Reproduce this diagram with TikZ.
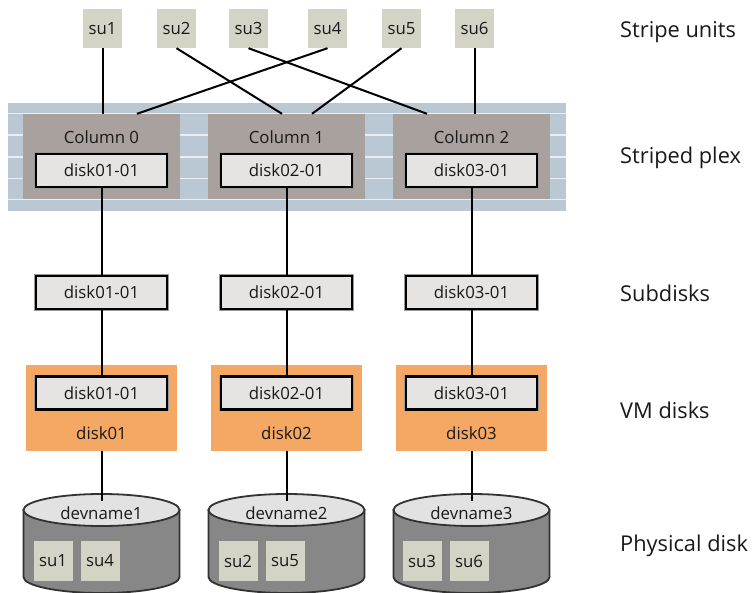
\documentclass[tikz,border=0pt]{standalone}
\usepackage{fontspec}
\setmainfont{Open Sans}
\definecolor{sucol}{RGB}{211,211,198}
\definecolor{bandcol}{RGB}{186,200,211}
\definecolor{stripecol}{RGB}{232,238,243}
\definecolor{colcol}{RGB}{169,161,158}
\definecolor{diskfill}{RGB}{229,228,226}
\definecolor{vmcol}{RGB}{245,168,99}
\definecolor{cylbody}{RGB}{135,135,135}
\definecolor{cyltop}{RGB}{226,226,226}
\definecolor{cylline}{RGB}{50,50,50}
\definecolor{txtcol}{RGB}{25,25,25}
\begin{document}
\begin{tikzpicture}[x=1pt,y=-1pt,
  smallfont/.style={font=\fontsize{16.8}{19}\selectfont, text=txtcol},
  sunit/.style={fill=sucol, minimum width=39pt, minimum height=39pt, inner sep=0pt, smallfont},
  colbox/.style={fill=colcol, minimum width=157pt, minimum height=85pt, inner sep=0pt},
  diskbox/.style={fill=diskfill, draw=black, line width=2.4pt, preaction={draw=black!40, line width=3.8pt}, minimum width=131pt, minimum height=33pt, inner sep=0pt, smallfont},
  vmbox/.style={fill=vmcol, minimum width=151pt, minimum height=86pt, inner sep=0pt},
  plainlbl/.style={inner sep=0pt, smallfont},
  rowlabel/.style={anchor=base west, inner sep=0pt, font=\fontsize{21.8}{26}\selectfont, text=txtcol},
  conn/.style={line width=2pt, draw=black},
  cylfill/.style={fill=cylbody, draw=cylline, line width=1.8pt},
  cyltopfill/.style={fill=cyltop, draw=cylline, line width=1.8pt},
  stripe/.style={draw=stripecol, line width=1.6pt},
]
\useasboundingbox[fill=white] (0,0) rectangle (755,593);

% striped plex band
\fill[bandcol] (8,103) rectangle (566,211);
\foreach \yy in {113.5,135,157,178.5,199.5}{\draw[stripe] (8,\yy) -- (566,\yy);}

% stripe units
\node[sunit] (su1) at (102.5,28.5) {su1};
\node[sunit] (su2) at (176.5,28.5) {su2};
\node[sunit] (su3) at (248.5,28.5) {su3};
\node[sunit] (su4) at (327.5,28.5) {su4};
\node[sunit] (su5) at (401.5,28.5) {su5};
\node[sunit] (su6) at (474.5,28.5) {su6};

% columns
\node[colbox] (col0) at (101.5,156.5) {};
\node[colbox] (col1) at (286.5,156.5) {};
\node[colbox] (col2) at (471.5,156.5) {};
\node[plainlbl] (c0t) at (101.5,137) {Column 0};
\node[plainlbl] (c1t) at (286.5,137) {Column 1};
\node[plainlbl] (c2t) at (471.5,137) {Column 2};
\node[diskbox] (pd1) at (101.5,170.5) {disk01-01};
\node[diskbox] (pd2) at (286.5,170.5) {disk02-01};
\node[diskbox] (pd3) at (471.5,170.5) {disk03-01};

% subdisks
\node[diskbox] (sd1) at (101.5,292.5) {disk01-01};
\node[diskbox] (sd2) at (286.5,292.5) {disk02-01};
\node[diskbox] (sd3) at (471.5,292.5) {disk03-01};

% VM disks
\node[vmbox] (vm1) at (101.5,408) {};
\node[vmbox] (vm2) at (286.5,408) {};
\node[vmbox] (vm3) at (471.5,408) {};
\node[diskbox] (vd1) at (101.5,393) {disk01-01};
\node[diskbox] (vd2) at (286.5,393) {disk02-01};
\node[diskbox] (vd3) at (471.5,393) {disk03-01};
\node[plainlbl] (vl1) at (101.5,433) {disk01};
\node[plainlbl] (vl2) at (286.5,433) {disk02};
\node[plainlbl] (vl3) at (471.5,433) {disk03};

% physical disks (cylinders)
\foreach \cx/\n in {101.5/1,286.5/2,471.5/3}{
  \path[cylfill] (\cx-78,510) -- (\cx-78,577) arc (180:0:78 and 16) -- (\cx+78,510) -- cycle;
  \path[cyltopfill] (\cx,510) ellipse (78 and 16);
  \coordinate (cyl\n) at (\cx,501);
}
\node[plainlbl] (dn1) at (101.5,513) {devname1};
\node[plainlbl] (dn2) at (286.5,513) {devname2};
\node[plainlbl] (dn3) at (471.5,513) {devname3};
\node[sunit, minimum height=40pt] (p1a) at (53,561) {su1};
\node[sunit, minimum height=40pt] (p1b) at (100,561) {su4};
\node[sunit, minimum height=40pt] (p2a) at (238,561) {su2};
\node[sunit, minimum height=40pt] (p2b) at (285,561) {su5};
\node[sunit, minimum height=40pt] (p3a) at (422,561) {su3};
\node[sunit, minimum height=40pt] (p3b) at (469,561) {su6};

% connectors: stripe units to columns
\draw[conn] (su1.south) -- (su1.south |- col0.north);
\draw[conn] (su2.south) -- ([xshift=-4.5pt]col1.north);
\draw[conn] (su3.south) -- ([xshift=-44.5pt]col2.north);
\draw[conn] (su4.south) -- ([xshift=35.5pt]col0.north);
\draw[conn] (su5.south) -- ([xshift=25.5pt]col1.north);
\draw[conn] (su6.south) -- (su6.south |- col2.north);

% vertical chains
\foreach \i in {1,2,3}{
  \draw[conn] (pd\i.south) -- (sd\i.north);
  \draw[conn] (sd\i.south) -- (vd\i.north);
  \draw[conn] (vm\i.south) -- (cyl\i);
}

% row labels
\node[rowlabel] (l1) at (620,37.5) {Stripe units};
\node[rowlabel] (l2) at (620,164) {Striped plex};
\node[rowlabel] (l3) at (620,302) {Subdisks};
\node[rowlabel] (l4) at (620,418) {VM disks};
\node[rowlabel] (l5) at (620,551) {Physical disk};
\end{tikzpicture}
\end{document}
